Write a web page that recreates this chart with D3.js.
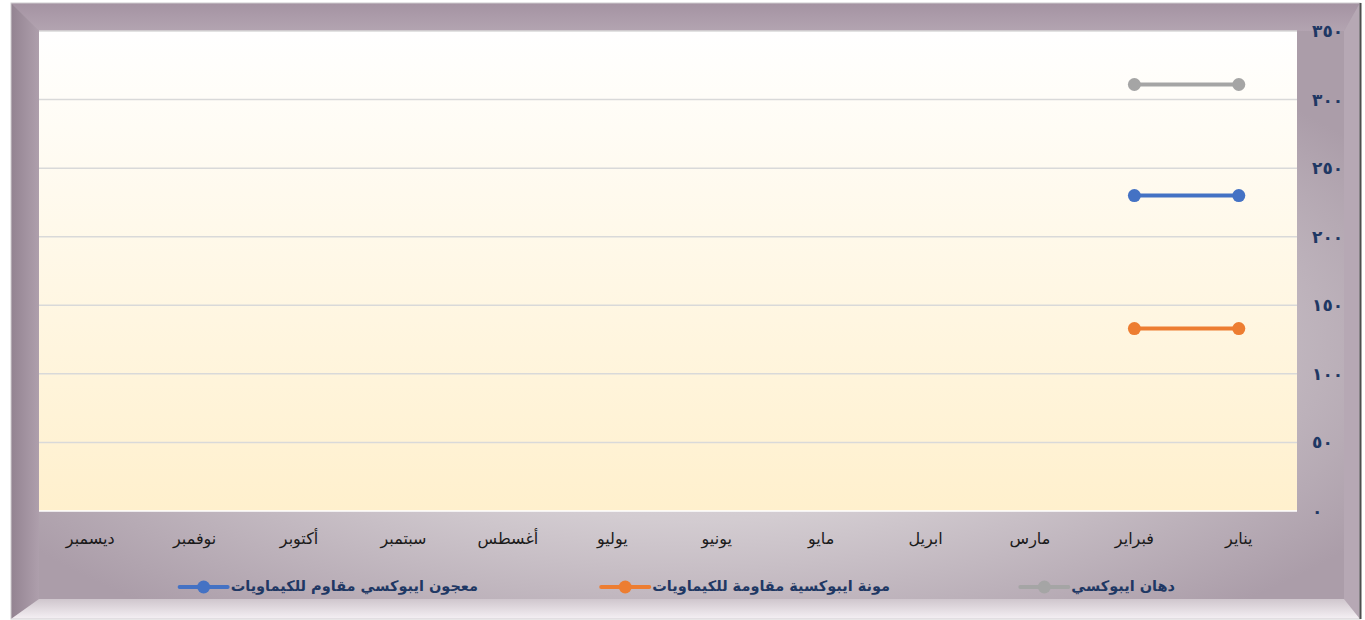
<!DOCTYPE html>
<html>
<head>
<meta charset="utf-8">
<script src="https://cdn.jsdelivr.net/npm/d3@7"></script>
<style>
  body { margin: 0; background: #fff; }
  svg { display: block; font-family: 'DejaVu Sans', sans-serif; }
</style>
</head>
<body>
<div class="canvas"></div>
<script>
// data
const months = ['يناير', 'فبراير', 'مارس', 'ابريل', 'مايو', 'يونيو', 'يوليو', 'أغسطس', 'سبتمبر', 'أكتوبر', 'نوفمبر', 'ديسمبر']
const seriesNames = ['دهان ايبوكسي', 'مونة ايبوكسية مقاومة للكيماويات', 'معجون ايبوكسي مقاوم للكيماويات']
const paintValues = [311, 311]
const mortarValues = [133, 133]
const pasteValues = [230, 230]
const yTicks = [0, 50, 100, 150, 200, 250, 300, 350]

const colors = ['#a5a5a5', '#ed7d31', '#4472c4']
const seriesValues = [paintValues, mortarValues, pasteValues]

const svgWidth = 1365, svgHeight = 620
const plot = { left: 39, right: 1297, top: 31, bottom: 511 }

const svg = d3.select('.canvas')
  .append('svg')
  .attr('width', svgWidth)
  .attr('height', svgHeight)

const defs = svg.append('defs')

// panel gradient
const panelGrad = defs.append('radialGradient')
  .attr('id', 'panel')
  .attr('cx', '50%').attr('cy', '55%').attr('r', '62%')
panelGrad.append('stop').attr('offset', '0%').attr('stop-color', '#e4e1e4')
panelGrad.append('stop').attr('offset', '50%').attr('stop-color', '#d3ccd1')
panelGrad.append('stop').attr('offset', '100%').attr('stop-color', '#ab9da9')

const plotGrad = defs.append('linearGradient')
  .attr('id', 'plotbg')
  .attr('x1', 0).attr('y1', 0).attr('x2', 0).attr('y2', 1)
plotGrad.append('stop').attr('offset', '0%').attr('stop-color', '#ffffff')
plotGrad.append('stop').attr('offset', '100%').attr('stop-color', '#fff0cd')

const bottomGrad = defs.append('linearGradient')
  .attr('id', 'bevelBottom')
  .attr('x1', 0).attr('y1', 0).attr('x2', 0).attr('y2', 1)
bottomGrad.append('stop').attr('offset', '0%').attr('stop-color', '#cfc6cd')
bottomGrad.append('stop').attr('offset', '100%').attr('stop-color', '#f5f0f4')

const leftGrad = defs.append('linearGradient')
  .attr('id', 'bevelLeft')
  .attr('x1', 0).attr('y1', 0).attr('x2', 1).attr('y2', 0)
leftGrad.append('stop').attr('offset', '0%').attr('stop-color', '#938391')
leftGrad.append('stop').attr('offset', '100%').attr('stop-color', '#ae9fac')

const topGrad = defs.append('linearGradient')
  .attr('id', 'bevelTop')
  .attr('x1', 0).attr('y1', 0).attr('x2', 0).attr('y2', 1)
topGrad.append('stop').attr('offset', '0%').attr('stop-color', '#a493a2')
topGrad.append('stop').attr('offset', '100%').attr('stop-color', '#b3a4b1')

// frame
const fx0 = 11, fy0 = 3, fx1 = 1360, fy1 = 619
const bl = 28, bt = 28, br = 16, bb = 20

svg.append('rect')
  .attr('x', fx0).attr('y', fy0)
  .attr('width', fx1 - fx0).attr('height', fy1 - fy0)
  .attr('fill', 'url(#panel)')

const bevels = [
  { pts: [[fx0, fy0], [fx1, fy0], [fx1 - br, fy0 + bt], [fx0 + bl, fy0 + bt]], fill: 'url(#bevelTop)' },
  { pts: [[fx0, fy0], [fx0 + bl, fy0 + bt], [fx0 + bl, fy1 - bb], [fx0, fy1]], fill: 'url(#bevelLeft)' },
  { pts: [[fx1, fy0], [fx1, fy1], [fx1 - br, fy1 - bb], [fx1 - br, fy0 + bt]], fill: '#b6a8b4' },
  { pts: [[fx0, fy1], [fx0 + bl, fy1 - bb], [fx1 - br, fy1 - bb], [fx1, fy1]], fill: 'url(#bevelBottom)' }
]
svg.selectAll('polygon.bevel')
  .data(bevels)
  .enter()
  .append('polygon')
  .attr('class', 'bevel')
  .attr('points', d => d.pts.map(p => p.join(',')).join(' '))
  .attr('fill', d => d.fill)

// inner panel over bevels
svg.append('rect')
  .attr('x', fx0 + bl).attr('y', fy0 + bt)
  .attr('width', fx1 - br - fx0 - bl).attr('height', fy1 - bb - fy0 - bt)
  .attr('fill', 'url(#panel)')

svg.append('rect')
  .attr('x', fx0).attr('y', fy0)
  .attr('width', fx1 - fx0).attr('height', fy1 - fy0)
  .attr('fill', 'none')
  .attr('stroke', '#d0cdd0')
  .attr('stroke-width', 1)

svg.append('line')
  .attr('x1', fx1 + 0.5).attr('x2', fx1 + 0.5)
  .attr('y1', fy0).attr('y2', fy1)
  .attr('stroke', '#4d4d4d').attr('stroke-width', 2)

// plot area
svg.append('rect')
  .attr('x', plot.left).attr('y', plot.top)
  .attr('width', plot.right - plot.left).attr('height', plot.bottom - plot.top)
  .attr('fill', 'url(#plotbg)')

// scales
const x = d3.scaleBand()
  .domain(months)
  .range([1291, 38])

const y = d3.scaleLinear()
  .domain([0, 350])
  .range([plot.bottom, plot.top])

const arabicNum = n => String(n).replace(/\d/g, c => '٠١٢٣٤٥٦٧٨٩'[+c])

// gridlines
svg.append('g')
  .selectAll('line')
  .data(yTicks)
  .enter()
  .append('line')
  .attr('x1', plot.left).attr('x2', plot.right)
  .attr('y1', d => y(d)).attr('y2', d => y(d))
  .attr('stroke', d => d === 0 ? '#ffffff' : '#d9d9d9')
  .attr('stroke-width', 1.5)

// y axis on the right
const yAxis = d3.axisRight(y)
  .tickValues(yTicks)
  .tickSize(0)
  .tickPadding(0)
  .tickFormat(arabicNum)

const yAxisGroup = svg.append('g')
  .attr('transform', 'translate(1312, 0)')
  .call(yAxis)
yAxisGroup.select('.domain').remove()
yAxisGroup.selectAll('text')
  .attr('fill', '#1f3864')
  .attr('font-size', 17)
  .attr('font-weight', 'bold')
  .attr('font-family', "'DejaVu Sans', sans-serif")

// x axis
const xAxis = d3.axisBottom(x).tickSize(0).tickPadding(0)
const xAxisGroup = svg.append('g')
  .attr('transform', `translate(0, ${plot.bottom + 22})`)
  .call(xAxis)
xAxisGroup.select('.domain').remove()
xAxisGroup.selectAll('text')
  .attr('fill', '#1a1a1a')
  .attr('font-size', 16)
  .attr('font-family', "'DejaVu Sans', sans-serif")

// series lines and points
const line = d3.line()
  .x((d, i) => x(months[i]) + x.bandwidth() / 2)
  .y(d => y(d))

seriesValues.forEach((vals, si) => {
  svg.append('path')
    .datum(vals)
    .attr('fill', 'none')
    .attr('stroke', colors[si])
    .attr('stroke-width', 4)
    .attr('stroke-linecap', 'round')
    .attr('d', line)

  svg.append('g')
    .selectAll('circle')
    .data(vals)
    .enter()
    .append('circle')
    .attr('cx', (d, i) => x(months[i]) + x.bandwidth() / 2)
    .attr('cy', d => y(d))
    .attr('r', 6.5)
    .attr('fill', colors[si])
})

// legend
const legendRight = [1175, 890, 478]
const legendY = 587
seriesNames.forEach((name, si) => {
  const g = svg.append('g')
  const t = g.append('text')
    .attr('x', legendRight[si])
    .attr('y', legendY)
    .attr('text-anchor', 'end')
    .attr('dominant-baseline', 'middle')
    .attr('font-size', 14.5)
    .attr('font-weight', 'bold')
    .attr('fill', '#1f3864')
    .text(name)
  const w = t.node().getComputedTextLength()
  const x1 = legendRight[si] - w - 3
  const x0 = x1 - 48
  g.append('line')
    .attr('x1', x0).attr('x2', x1)
    .attr('y1', legendY).attr('y2', legendY)
    .attr('stroke', colors[si])
    .attr('stroke-width', 4)
    .attr('stroke-linecap', 'round')
  g.append('circle')
    .attr('cx', (x0 + x1) / 2).attr('cy', legendY)
    .attr('r', 6.5)
    .attr('fill', colors[si])
})
</script>
</body>
</html>
